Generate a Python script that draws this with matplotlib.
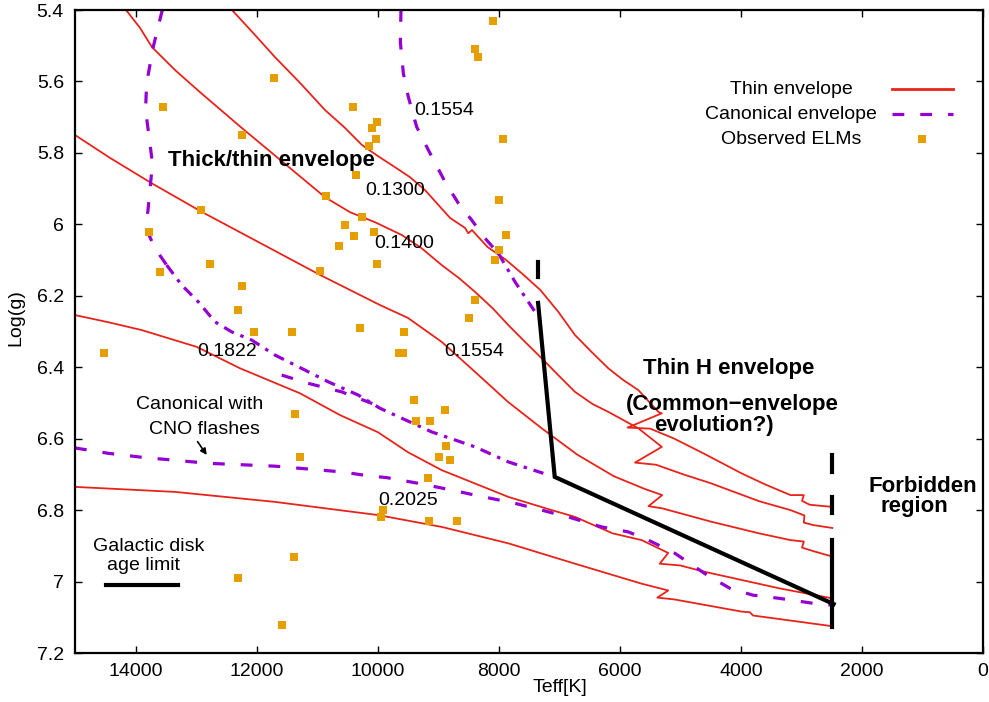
import numpy as np
import matplotlib
matplotlib.use("Agg")
import matplotlib.pyplot as plt

plt.rcParams['font.family'] = ['Liberation Sans', 'DejaVu Sans']
plt.rcParams['lines.scale_dashes'] = False

RED = '#e8231a'
PURPLE = '#9400d3'
ORANGE = '#e69f00'

# thin envelope tracks (Teff, log g)
thin_0130_T = [12390, 12026, 11696, 11283, 10870, 10540, 10259, 9995, 9714, 9466, 9218, 8805, 8557, 8503, 8442, 8188, 7877, 7600, 7312, 7016, 6740, 6450, 6190, 5950, 5694, 5364, 5306, 5872, 5496, 5100, 4620, 3990, 3600, 3180, 2960, 2990, 2863, 2490]
thin_0130_g = [5.403, 5.47, 5.532, 5.604, 5.68, 5.73, 5.778, 5.809, 5.84, 5.868, 5.904, 5.982, 6.010, 6.025, 6.016, 6.063, 6.10, 6.14, 6.184, 6.245, 6.31, 6.36, 6.403, 6.435, 6.464, 6.525, 6.529, 6.569, 6.572, 6.60, 6.641, 6.697, 6.728, 6.758, 6.758, 6.774, 6.785, 6.791]

thin_0140_T = [14157, 13926, 13728, 13348, 12935, 12246, 11607, 10870, 10457, 10044, 9600, 9273, 8943, 8660, 8392, 8100, 7842, 7560, 7290, 7000, 6740, 6450, 6190, 5694, 5306, 5749, 5400, 4950, 4493, 3700, 3180, 2950, 2960, 2800, 2490]
thin_0140_g = [5.40, 5.45, 5.504, 5.568, 5.63, 5.73, 5.82, 5.924, 5.966, 5.994, 6.03, 6.067, 6.114, 6.15, 6.189, 6.235, 6.282, 6.33, 6.375, 6.425, 6.469, 6.503, 6.525, 6.571, 6.623, 6.667, 6.673, 6.70, 6.725, 6.775, 6.80, 6.815, 6.835, 6.842, 6.85]

thin_0155_T = [15000, 14422, 13733, 12907, 11944, 10948, 9961, 9500, 8943, 8392, 7847, 7290, 6700, 6100, 5600, 5300, 5526, 5300, 4500, 3700, 3180, 2960, 2990, 2800, 2490]
thin_0155_g = [5.75, 5.814, 5.885, 5.965, 6.052, 6.142, 6.226, 6.262, 6.329, 6.413, 6.497, 6.571, 6.645, 6.705, 6.74, 6.758, 6.789, 6.795, 6.832, 6.865, 6.884, 6.888, 6.905, 6.915, 6.93]

thin_0182_T = [15000, 14450, 13899, 12990, 12274, 11283, 10622, 9995, 9499, 8943, 7842, 7125, 6740, 6120, 5638, 5200, 5340, 5000, 4615, 3364, 2490]
thin_0182_g = [6.254, 6.274, 6.296, 6.343, 6.403, 6.473, 6.534, 6.582, 6.638, 6.688, 6.763, 6.80, 6.819, 6.865, 6.884, 6.92, 6.95, 6.955, 6.972, 7.019, 7.047]

thin_0203_T = [15000, 13348, 11696, 9989, 8943, 7842, 6740, 5638, 5200, 5380, 5100, 3990, 3850, 3800, 2490]
thin_0203_g = [6.735, 6.749, 6.777, 6.814, 6.847, 6.893, 6.95, 7.006, 7.025, 7.045, 7.05, 7.084, 7.086, 7.095, 7.125]

# canonical envelope tracks
can_0155_T = [9615, 9625, 9576, 9494, 9356, 9163, 8887, 8667, 8447, 8227, 8007]
can_0155_g = [5.40, 5.49, 5.577, 5.643, 5.727, 5.792, 5.881, 5.941, 5.988, 6.039, 6.081]
can_0155b_T = [8007, 7731, 7511, 7346]
can_0155b_g = [6.081, 6.161, 6.217, 6.259]

can_thick_T = [13558, 13707, 13817, 13834, 13780, 13720, 13760, 13800, 13778, 13679, 13486]
can_thick_g = [5.40, 5.503, 5.605, 5.68, 5.75, 5.83, 5.90, 5.97, 6.03, 6.067, 6.114]
can_thickb_T = [13486, 13238, 12963, 12687, 12412, 12081, 11696, 11366, 10815, 10320, 9961, 9108, 8392, 7842, 7263]
can_thickb_g = [6.114, 6.17, 6.217, 6.273, 6.301, 6.324, 6.366, 6.394, 6.441, 6.478, 6.515, 6.581, 6.623, 6.665, 6.697]
can_loop_T = [11586, 11150, 10595, 9961]
can_loop_g = [6.422, 6.445, 6.469, 6.51]

can_cno_T = [15000, 14449, 13899, 12798, 11696, 10595, 10155, 9852, 9329, 8860, 8392, 7731, 7290, 6795, 6300, 5860, 5529, 5088, 4838, 4556, 4180, 3803, 3364, 2801, 2487]
can_cno_g = [6.626, 6.641, 6.652, 6.669, 6.677, 6.693, 6.704, 6.709, 6.725, 6.741, 6.758, 6.781, 6.80, 6.822, 6.847, 6.861, 6.884, 6.921, 6.95, 6.982, 7.019, 7.038, 7.047, 7.061, 7.066]

# galactic disk age limit
age_T = [7350, 7075, 2468]
age_g = [6.22, 6.707, 7.063]
age_dash_T = [7345, 7345]
age_dash_g = [6.105, 6.147]
forb_T = 2490
forb_segs = [(6.645, 6.692), (6.763, 6.809), (6.884, 7.127)]

# observed ELMs
elm_T = [11707, 13541, 12236, 10402, 10016, 10088, 10027, 10143, 10363, 10848, 12918, 10254,
         13778, 13591, 12770, 12236, 12302, 12038, 11410, 10948, 10634, 10540, 10386, 10056,
         10016, 10287, 14516, 11366, 11278, 11377, 12302, 11575, 9907, 9945, 9152, 8684,
         9163, 8866, 8981, 8800, 7876, 7996, 8056, 8387, 8486, 9560, 9650, 9576, 9395,
         9372, 9130, 8882, 8089, 8387, 8337, 7936, 7991]
elm_g = [5.591, 5.672, 5.75, 5.672, 5.713, 5.731, 5.762, 5.781, 5.862, 5.922, 5.96, 5.979,
         6.022, 6.133, 6.112, 6.172, 6.241, 6.302, 6.302, 6.132, 6.062, 6.003, 6.032, 6.022,
         6.112, 6.291, 6.361, 6.532, 6.652, 6.932, 6.991, 7.123, 6.80, 6.82, 6.831, 6.831,
         6.711, 6.621, 6.652, 6.66, 6.03, 6.073, 6.10, 6.212, 6.263, 6.302, 6.361, 6.361, 6.493,
         6.551, 6.551, 6.521, 5.431, 5.51, 5.532, 5.762, 5.933]

xticks = [14000, 12000, 10000, 8000, 6000, 4000, 2000, 0]
yticks = [5.4, 5.6, 5.8, 6.0, 6.2, 6.4, 6.6, 6.8, 7.0, 7.2]
ytick_labels = ['5.4', '5.6', '5.8', '6', '6.2', '6.4', '6.6', '6.8', '7', '7.2']

fig = plt.figure(figsize=(9.89, 7.02), dpi=100)
ax = fig.add_axes([75/989, 49/702, 908/989, 643/702])

dash = (0, (8.5, 11.5))
dashdot = (0, (8, 5, 2.5, 5))
lw_red = 1.3
lw_pur = 2.3

for T, g in [(thin_0130_T, thin_0130_g), (thin_0140_T, thin_0140_g), (thin_0155_T, thin_0155_g),
             (thin_0182_T, thin_0182_g), (thin_0203_T, thin_0203_g)]:
    ax.plot(T, g, color=RED, lw=lw_red, zorder=2)

ax.plot(can_0155_T, can_0155_g, color=PURPLE, lw=lw_pur, ls=dash, zorder=2)
ax.plot(can_0155b_T, can_0155b_g, color=PURPLE, lw=lw_pur, ls=dashdot, zorder=2)
ax.plot(can_thick_T, can_thick_g, color=PURPLE, lw=lw_pur, ls=dash, zorder=2)
ax.plot(can_thickb_T, can_thickb_g, color=PURPLE, lw=lw_pur, ls=dashdot, zorder=2)
ax.plot(can_loop_T, can_loop_g, color=PURPLE, lw=lw_pur, ls=dash, zorder=2)
ax.plot(can_cno_T, can_cno_g, color=PURPLE, lw=lw_pur, ls=dash, zorder=2)

ax.plot(age_T, age_g, color='black', lw=3, zorder=3, solid_joinstyle='miter')
ax.plot(age_dash_T, age_dash_g, color='black', lw=3, zorder=3)
for g0, g1 in forb_segs:
    ax.plot([forb_T, forb_T], [g0, g1], color='black', lw=3, zorder=3)

ax.plot(elm_T, elm_g, 's', color=ORANGE, ms=6.3, mew=0, zorder=4)

# labels on the plot
ax.text(11750, 5.82, 'Thick/thin envelope', fontsize=16, fontweight='bold', ha='center', va='center')
ax.text(9714, 5.904, '0.1300', fontsize=14, ha='center', va='center')
ax.text(9565, 6.053, '0.1400', fontsize=14, ha='center', va='center')
ax.text(8904, 5.68, '0.1554', fontsize=14, ha='center', va='center')
ax.text(8409, 6.355, '0.1554', fontsize=14, ha='center', va='center')
ax.text(12494, 6.355, '0.1822', fontsize=14, ha='center', va='center')
ax.text(9499, 6.774, '0.2025', fontsize=14, ha='center', va='center')
ax.text(4196, 6.403, 'Thin H envelope', fontsize=16, fontweight='bold', ha='center', va='center')
ax.text(4146, 6.503, '(Common\u2212envelope', fontsize=16, fontweight='bold', ha='center', va='center')
ax.text(4444, 6.562, 'evolution?)', fontsize=16, fontweight='bold', ha='center', va='center')
ax.text(991, 6.733, 'Forbidden', fontsize=16, fontweight='bold', ha='center', va='center')
ax.text(1140, 6.791, 'region', fontsize=16, fontweight='bold', ha='center', va='center')
ax.text(12935, 6.503, 'Canonical with', fontsize=14, ha='center', va='center')
ax.text(12869, 6.573, 'CNO flashes', fontsize=14, ha='center', va='center')
ax.annotate('', xy=(12798, 6.652), xytext=(13001, 6.602),
            arrowprops=dict(arrowstyle='-|>', color='black', lw=1.2, mutation_scale=9))
ax.text(13778, 6.903, 'Galactic disk', fontsize=14, ha='center', va='center')
ax.text(13872, 6.954, 'age limit', fontsize=14, ha='center', va='center')
ax.plot([14488, 13304], [7.01, 7.01], color='black', lw=3)

# legend
tr = ax.transAxes
ax.text(0.7885, 0.877, 'Thin envelope', transform=tr, fontsize=14, ha='center', va='center')
ax.text(0.7885, 0.838, 'Canonical envelope', transform=tr, fontsize=14, ha='center', va='center')
ax.text(0.7885, 0.799, 'Observed ELMs', transform=tr, fontsize=14, ha='center', va='center')
ax.plot([0.8998, 0.967], [0.877, 0.877], transform=tr, color=RED, lw=2)
ax.plot([0.8998, 0.967], [0.838, 0.838], transform=tr, color=PURPLE, lw=lw_pur, ls=dash)
ax.plot([0.9328], [0.799], 's', transform=tr, color=ORANGE, ms=6.3, mew=0)

ax.set_xlim(15000, 0)
ax.set_ylim(7.2, 5.4)
ax.set_xticks(xticks)
ax.set_xticklabels([str(t) for t in xticks])
ax.set_yticks(yticks)
ax.set_yticklabels(ytick_labels)
ax.tick_params(direction='in', length=5, width=1, top=True, right=True, labelsize=14)
ax.tick_params(axis='x', pad=7.5)
ax.tick_params(axis='y', pad=8)
for s in ax.spines.values():
    s.set_linewidth(1.6)

fig.text(560/989, 1 - 688/702, 'Teff[K]', fontsize=14, ha='center', va='center')
fig.text(16/989, 1 - 318/702, 'Log(g)', fontsize=14, ha='center', va='center', rotation=90)

fig.savefig('out.png', dpi=100)
